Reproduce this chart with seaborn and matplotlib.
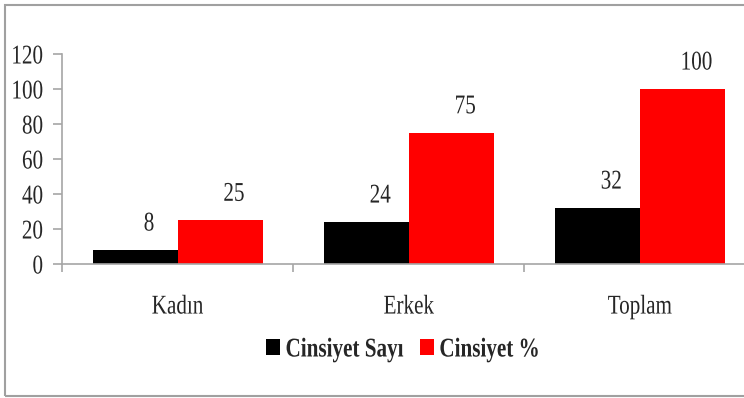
"""Grouped bar chart: Cinsiyet sayı ve yüzdesi."""
import matplotlib
matplotlib.use('Agg')
import matplotlib.pyplot as plt
from matplotlib.patches import Rectangle
from matplotlib.patheffects import AbstractPathEffect
from matplotlib.transforms import Affine2D
import pandas as pd
import seaborn as sns

categories = ['Kadın', 'Erkek', 'Toplam']
sayi_values = [8, 24, 32]
yuzde_values = [25, 75, 100]
series_names = ['Cinsiyet Sayı', 'Cinsiyet %']
y_ticks = [0, 20, 40, 60, 80, 100, 120]

FONT_SIZE = 19.5
SX = 0.78  # the original uses a narrow (condensed) Times look


class Squeeze(AbstractPathEffect):
    """Draw text narrower, keeping it anchored at left/center/right."""

    def __init__(self, sx=SX, anchor='center'):
        super().__init__()
        self.sx = sx
        self.anchor = anchor

    def draw_path(self, renderer, gc, tpath, affine, rgbFace=None):
        ext = tpath.get_extents(affine)
        if self.anchor == 'left':
            x0 = ext.x0
        elif self.anchor == 'right':
            x0 = ext.x1
        else:
            x0 = (ext.x0 + ext.x1) / 2
        squeeze = Affine2D().translate(-x0, 0).scale(self.sx, 1).translate(x0, 0)
        renderer.draw_path(gc, tpath, affine + squeeze, rgbFace)


sns.set_style('white')
plt.rcParams['font.family'] = ['Liberation Serif', 'DejaVu Serif']

# Long-form table for seaborn
df = pd.DataFrame({
    'kategori': categories * 2,
    'deger': sayi_values + yuzde_values,
    'seri': [series_names[0]] * 3 + [series_names[1]] * 3,
})

fig = plt.figure(figsize=(7.44, 3.98), dpi=100)
ax = fig.add_axes([62 / 744, 134 / 398, 693.5 / 744, 210 / 398])

sns.barplot(data=df, x='kategori', y='deger', hue='seri',
            palette=['#000000', '#ff0000'], saturation=1,
            width=0.735, gap=0, linewidth=0, ax=ax, errorbar=None)

# Value labels, a bit right of and above each bar
for container in ax.containers:
    for bar in container:
        h = bar.get_height()
        t = ax.annotate(f'{h:.0f}', (bar.get_x() + bar.get_width() / 2, h),
                        xytext=(10, 14), textcoords='offset points',
                        ha='center', va='baseline', fontsize=FONT_SIZE)
        t.set_path_effects([Squeeze(anchor='center')])

ax.set_ylim(0, 120)
ax.set_yticks(y_ticks)
ax.set_xlim(-0.5, 2.5)
ax.set_xlabel('')
ax.set_ylabel('')

for side in ['top', 'right']:
    ax.spines[side].set_visible(False)
for side in ['left', 'bottom']:
    ax.spines[side].set_color('#a6a6a6')
    ax.spines[side].set_linewidth(1.2)

ax.tick_params(axis='y', which='both', left=True, length=6.5, width=1.2,
               color='#a6a6a6', pad=7, labelsize=FONT_SIZE)
ax.tick_params(axis='x', which='major', length=0, pad=22, labelsize=FONT_SIZE)
ax.set_xticks([-0.5, 0.5, 1.5, 2.5], minor=True)
ax.tick_params(axis='x', which='minor', bottom=True, length=6, width=1.2,
               color='#a6a6a6')

for lbl in ax.get_yticklabels():
    lbl.set_path_effects([Squeeze(anchor='right')])
for lbl in ax.get_xticklabels():
    lbl.set_path_effects([Squeeze(anchor='center')])

handles, labels = ax.get_legend_handles_labels()
ax.get_legend().remove()
leg = fig.legend(handles, labels, loc='center',
                 bbox_to_anchor=(417 / 744, 1 - 350 / 398),
                 ncol=2, frameon=False, handlelength=0.5, handleheight=0.5,
                 handletextpad=0.2, columnspacing=-0.6,
                 prop={'weight': 'bold', 'size': FONT_SIZE})
for txt in leg.get_texts():
    txt.set_path_effects([Squeeze(anchor='left')])

# Gray outer frame
fig.patches.append(Rectangle((5 / 744, 2 / 398), 1.0, 391 / 398,
                             transform=fig.transFigure, fill=False,
                             edgecolor='#a0a0a0', linewidth=1.5))

fig.savefig('out.png', dpi=100)
